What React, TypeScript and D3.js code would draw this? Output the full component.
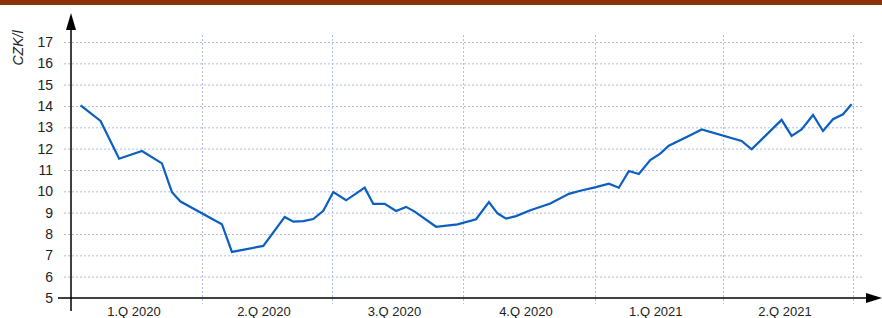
import React, { useEffect, useRef } from 'react';
import * as d3 from 'd3';

// weekly price, CZK per litre
const dates = [
  '2020-01-07', '2020-01-21', '2020-02-03', '2020-02-19', '2020-03-04', '2020-03-11', '2020-03-17',
  '2020-04-15', '2020-04-22', '2020-05-14', '2020-05-29', '2020-06-04', '2020-06-11', '2020-06-18',
  '2020-06-25', '2020-07-02', '2020-07-11', '2020-07-24', '2020-07-30', '2020-08-07', '2020-08-15',
  '2020-08-22', '2020-08-28', '2020-09-12', '2020-09-27', '2020-10-10', '2020-10-19', '2020-10-25',
  '2020-10-31', '2020-11-07', '2020-11-17', '2020-12-01', '2020-12-14', '2020-12-22', '2021-01-02',
  '2021-01-11', '2021-01-18', '2021-01-25', '2021-02-01', '2021-02-09', '2021-02-16', '2021-02-22',
  '2021-03-09', '2021-03-17', '2021-04-14', '2021-04-21', '2021-05-12', '2021-05-19', '2021-05-26',
  '2021-06-03', '2021-06-10', '2021-06-17', '2021-06-24', '2021-06-30',
];
const prices = [
  14.03, 13.3, 11.53, 11.89, 11.31, 9.96, 9.52,
  8.46, 7.16, 7.44, 8.8, 8.58, 8.6, 8.7,
  9.09, 9.97, 9.58, 10.17, 9.41, 9.41, 9.08,
  9.27, 9.05, 8.34, 8.45, 8.69, 9.5, 8.97,
  8.72, 8.84, 9.11, 9.43, 9.88, 10.03, 10.2,
  10.36, 10.17, 10.95, 10.81, 11.47, 11.77, 12.14,
  12.63, 12.9, 12.36, 11.97, 13.35, 12.6, 12.9,
  13.58, 12.83, 13.38, 13.61, 14.08,
];
const quarterStarts = ['2020-01-01', '2020-04-01', '2020-07-01', '2020-10-01', '2021-01-01', '2021-04-01', '2021-07-01'];
const quarterLabels = ['1.Q 2020', '2.Q 2020', '3.Q 2020', '4.Q 2020', '1.Q 2021', '2.Q 2021'];
const yTicks = [5, 6, 7, 8, 9, 10, 11, 12, 13, 14, 15, 16, 17];

const App = () => {
  const svgRef = useRef<SVGSVGElement>(null);

  useEffect(() => {
    const width = 882;
    const height = 318;
    const x0 = 72;
    const x1 = 853;
    const yBase = 298;

    const svg = d3.select(svgRef.current).attr('width', width).attr('height', height);
    svg.selectAll('*').remove();

    const parse = d3.utcParse('%Y-%m-%d');
    const qDates = quarterStarts.map((d) => parse(d) as Date);
    const x = d3.scaleUtc().domain([qDates[0], qDates[qDates.length - 1]]).range([x0, x1]);
    const y = d3.scaleLinear().domain([5, 17]).range([yBase, 42]);

    // top bar
    svg.append('rect').attr('x', 0).attr('y', 0).attr('width', width).attr('height', 5).attr('fill', '#8a3106');

    const gridColor = '#adbde6';
    // horizontal grid
    svg.append('g')
      .selectAll('line')
      .data(yTicks.slice(1))
      .join('line')
      .attr('x1', 64)
      .attr('x2', 862)
      .attr('y1', (d) => y(d) + 0.5)
      .attr('y2', (d) => y(d) + 0.5)
      .attr('stroke', gridColor)
      .attr('stroke-dasharray', '2,2');

    // vertical grid at quarter boundaries
    svg.append('g')
      .selectAll('line')
      .data(qDates.slice(1))
      .join('line')
      .attr('x1', (d) => Math.round(x(d)) + 0.5)
      .attr('x2', (d) => Math.round(x(d)) + 0.5)
      .attr('y1', 35)
      .attr('y2', 304)
      .attr('stroke', gridColor)
      .attr('stroke-dasharray', '2,2');

    // axes
    svg.append('line').attr('x1', 58).attr('x2', 868).attr('y1', yBase).attr('y2', yBase)
      .attr('stroke', '#000').attr('stroke-width', 1.5);
    svg.append('path').attr('d', `M882,${yBase} L866,${yBase - 5} L866,${yBase + 5} Z`).attr('fill', '#000');
    svg.append('line').attr('x1', 71).attr('x2', 71).attr('y1', 28).attr('y2', 311)
      .attr('stroke', '#000').attr('stroke-width', 1.5);
    svg.append('path').attr('d', 'M71,13 L66,30 L76,30 Z').attr('fill', '#000');

    // y tick labels
    svg.append('g')
      .selectAll('text')
      .data(yTicks)
      .join('text')
      .attr('x', 53)
      .attr('y', (d) => y(d))
      .attr('dy', '0.35em')
      .attr('text-anchor', 'end')
      .attr('font-family', 'Liberation Sans, Arial, sans-serif')
      .attr('font-size', 14)
      .attr('fill', '#222')
      .text((d) => d);

    svg.append('text')
      .attr('transform', 'translate(23,48) rotate(-90)')
      .attr('text-anchor', 'middle')
      .attr('font-family', 'Liberation Sans, Arial, sans-serif')
      .attr('font-size', 14)
      .attr('font-style', 'italic')
      .attr('fill', '#222')
      .text('CZK/l');

    // quarter labels
    svg.append('g')
      .selectAll('text')
      .data(quarterLabels)
      .join('text')
      .attr('x', (_, i) => (x(qDates[i]) + x(qDates[i + 1])) / 2 - 3)
      .attr('y', 316)
      .attr('text-anchor', 'middle')
      .attr('font-family', 'Liberation Sans, Arial, sans-serif')
      .attr('font-size', 13)
      .attr('fill', '#222')
      .text((d) => d);

    // price line
    const data = dates.map((d, i) => ({ date: parse(d) as Date, value: prices[i] }));
    const line = d3.line<{ date: Date; value: number }>()
      .x((d) => x(d.date))
      .y((d) => y(d.value));
    svg.append('path')
      .datum(data)
      .attr('d', line)
      .attr('fill', 'none')
      .attr('stroke', '#0a5fbf')
      .attr('stroke-width', 2.2)
      .attr('stroke-linejoin', 'miter');
  }, []);

  return <svg ref={svgRef} style={{ position: 'absolute', left: 0, top: 0 }} />;
};

export default App;
